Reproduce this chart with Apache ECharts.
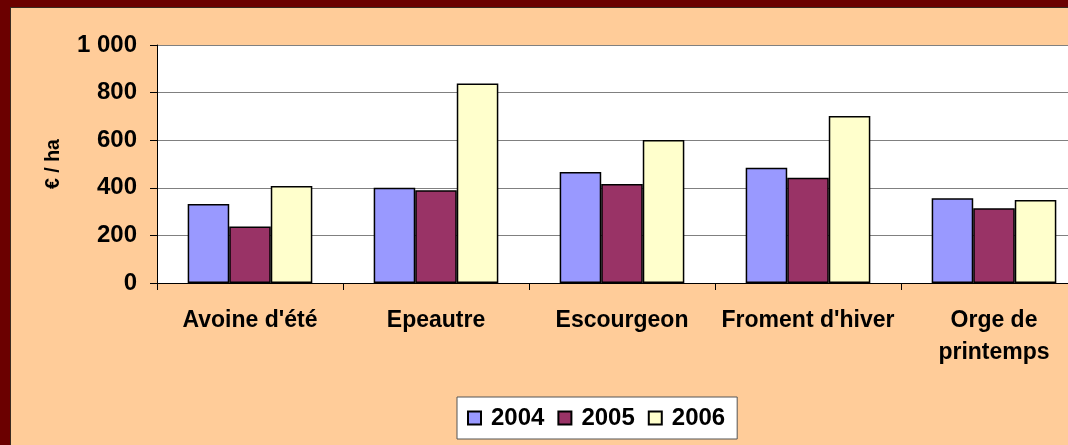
<!DOCTYPE html>
<html>
<head>
<meta charset="utf-8">
<script src="https://cdn.jsdelivr.net/npm/echarts@6/dist/echarts.min.js"></script>
<style>
html,body{margin:0;padding:0;}
#wrap{position:relative;width:1068px;height:445px;overflow:hidden;background:#6B0000;}
#inner{position:absolute;left:10px;top:7px;width:1100px;height:440px;background:#FFCC99;border-left:1px solid #3a2a20;border-top:1px solid #3a2a20;}
#chart{width:1100px;height:440px;}
</style>
</head>
<body>
<div id="wrap"><div id="inner"><div id="chart"></div></div></div>
<script>
const categories = ["Avoine d'été", "Epeautre", "Escourgeon", "Froment d'hiver", "Orge de\nprintemps"];
const seriesNames = ["2004", "2005", "2006"];
const values2004 = [332, 400, 466, 484, 356];
const values2005 = [237, 390, 416, 442, 314];
const values2006 = [408, 838, 601, 702, 349];
const yTicks = {min: 0, max: 1000, interval: 200};
const colors = ["#9999FF", "#993366", "#FFFFCC"];

const font = "'Liberation Sans', Arial, sans-serif";
const chart = echarts.init(document.getElementById('chart'));
const data = [values2004, values2005, values2006];
chart.setOption({
  animation: false,
  textStyle: {fontFamily: font},
  grid: {left: 146, top: 37, right: 24, bottom: 165, show: true, backgroundColor: '#ffffff', borderWidth: 0},
  legend: {
    left: 446, top: 389,
    backgroundColor: '#ffffff', borderColor: '#555', borderWidth: 1,
    padding: [9, 12, 9, 10],
    itemWidth: 13, itemHeight: 13, itemGap: 13,
    icon: 'rect',
    textStyle: {fontFamily: font, fontSize: 24, fontWeight: 'bold', color: '#000', padding: [0, 0, 0, 5]},
    data: seriesNames
  },
  xAxis: {
    type: 'category',
    data: categories,
    axisLine: {show: true, lineStyle: {color: '#000', width: 1}},
    axisTick: {show: true, inside: false, length: 7, lineStyle: {color: '#000'}},
    axisLabel: {fontFamily: font, fontSize: 23, fontWeight: 'bold', color: '#000', margin: 22, lineHeight: 32, interval: 0}
  },
  yAxis: {
    type: 'value',
    min: yTicks.min, max: yTicks.max, interval: yTicks.interval,
    name: '€ / ha', nameLocation: 'middle', nameGap: 93, nameRotate: 90,
    nameTextStyle: {fontFamily: font, fontSize: 19.5, fontWeight: 'bold', color: '#000'},
    axisLine: {show: true, lineStyle: {color: '#000', width: 1}},
    axisTick: {show: true, inside: false, length: 7, lineStyle: {color: '#000'}},
    axisLabel: {
      fontFamily: font, fontSize: 24, fontWeight: 'bold', color: '#000', margin: 20,
      formatter: v => String(v).replace(/\B(?=(\d{3})+(?!\d))/g, ' ')
    },
    splitLine: {show: true, lineStyle: {color: '#808080', width: 1}}
  },
  series: seriesNames.map((n, i) => ({
    name: n,
    type: 'bar',
    data: data[i],
    barGap: '0%',
    barCategoryGap: '33%',
    itemStyle: {color: colors[i], borderColor: '#000', borderWidth: 1.5}
  }))
});
</script>
</body>
</html>
